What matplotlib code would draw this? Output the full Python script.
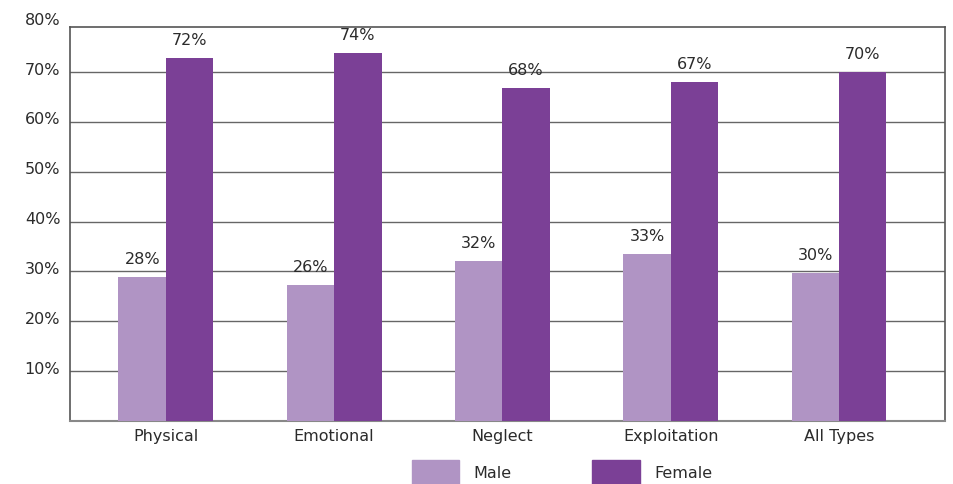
import matplotlib
matplotlib.use("Agg")
import matplotlib.pyplot as plt
import matplotlib.patches as mpatches
import numpy as np

plt.rcParams['font.family'] = ['DejaVu Sans']

categories = ["Physical", "Emotional", "Neglect", "Exploitation", "All Types"]
male_heights = [28.9, 27.3, 32.1, 33.5, 29.7]
female_heights = [72.8, 73.8, 66.8, 68.0, 70.0]
male_labels = ["28%", "26%", "32%", "33%", "30%"]
female_labels = ["72%", "74%", "68%", "67%", "70%"]
ytick_values = [10, 20, 30, 40, 50, 60, 70, 80]
ytick_labels = ["10%", "20%", "30%", "40%", "50%", "60%", "70%", "80%"]

male_color = "#B094C4"
female_color = "#7B4096"
text_color = "#2b2b2b"
fs = 11.5

fig = plt.figure(figsize=(9.54, 4.85), dpi=100)
ax = fig.add_axes([70/954, 1-422/485, (945-70)/954, (422-28)/485])

x = np.arange(len(categories))
w = 0.282
ax.bar(x - w/2, male_heights, width=w, color=male_color, zorder=3)
ax.bar(x + w/2, female_heights, width=w, color=female_color, zorder=3)

for xi, h, lab in zip(x - w/2, male_heights, male_labels):
    ax.annotate(lab, (xi, h), xytext=(0, 8), textcoords="offset points",
                ha="center", va="bottom", fontsize=fs, color=text_color)
for xi, h, lab in zip(x + w/2, female_heights, female_labels):
    ax.annotate(lab, (xi, h), xytext=(0, 8), textcoords="offset points",
                ha="center", va="bottom", fontsize=fs, color=text_color)

ax.set_xlim(-0.57, 4.63)
ax.set_ylim(0, 79)

for v in ytick_values:
    if v < 79:
        ax.axhline(v, color="#666666", linewidth=1.0, zorder=1)

ax.set_yticks([])
for v, lab in zip(ytick_values, ytick_labels):
    ax.annotate(lab, (0, v), xycoords=ax.get_yaxis_transform(),
                xytext=(-7, 2), textcoords="offset points",
                ha="right", va="center", fontsize=fs, color=text_color,
                annotation_clip=False)

ax.set_xticks(x)
ax.set_xticklabels(categories, fontsize=fs, color=text_color)
ax.tick_params(axis="x", length=0, pad=5)

for side in ["left", "top", "right"]:
    ax.spines[side].set_color("#555555")
    ax.spines[side].set_linewidth(1.2)
ax.spines["bottom"].set_color("#888888")
ax.spines["bottom"].set_linewidth(1.5)

handles = [mpatches.Patch(color=male_color, label="Male"),
           mpatches.Patch(color=female_color, label="Female")]
fig.legend(handles=handles, loc="center", bbox_to_anchor=(0.589, 0.024),
           ncol=2, frameon=False, fontsize=fs, handlelength=3.0,
           handleheight=2.0, handletextpad=0.9, columnspacing=5.0,
           labelcolor=text_color)

fig.savefig("out.png", dpi=100)
